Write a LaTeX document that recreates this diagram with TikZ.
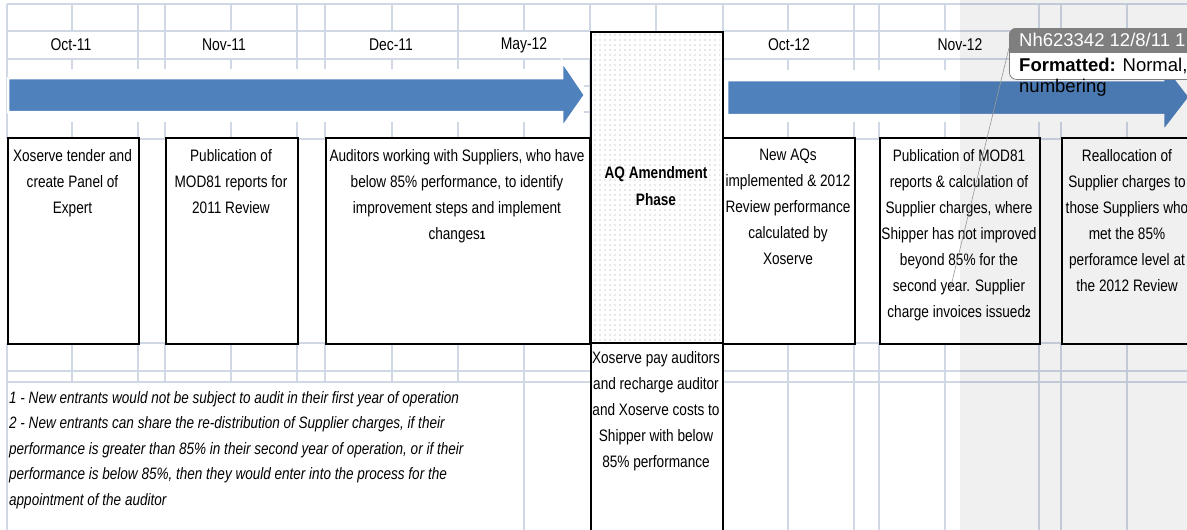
\documentclass[tikz,border=0pt]{standalone}
\usepackage{fontspec}
\setmainfont{Liberation Sans}[FakeStretch=0.82]
\newfontfamily\cmtfont{Liberation Sans}
\usetikzlibrary{patterns.meta,arrows.meta}
\definecolor{gridblue}{HTML}{D0D7E5}
\definecolor{arrowblue}{HTML}{4F81BD}
\definecolor{cmtgrey}{HTML}{7F7F7F}

\begin{document}
\begin{tikzpicture}[x=1pt,y=-1pt,
  gridline/.style={draw=gridblue,line width=1.5pt},
  evbox/.style={draw=black,line width=1.7pt,fill=white,inner sep=0pt,anchor=north west},
  datelbl/.style={inner sep=0pt,font=\fontsize{17}{20}\selectfont},
  boxtxt/.style={anchor=north,inner sep=0pt,align=center,font=\fontsize{16.6}{26}\selectfont},
  bigarrow/.style={fill=arrowblue,draw=white,line width=2.5pt,line join=miter},
  cmttxt/.style={anchor=west,inner sep=0pt,font=\cmtfont\fontsize{18.5}{20}\selectfont}]
  \useasboundingbox (0,0) rectangle (1187,530);
  \fill[white] (0,0) rectangle (1187,530);
  \begin{scope}
  \clip (0,0) rectangle (1187,530);

  % sheet grid
  \foreach \x in {7,72,138,165,231,297,325,392,458,524,590,656,723,788,854,879,945,1039,1061,1127}
    \draw[gridline] (\x,4) -- (\x,31) (\x,59) -- (\x,139);
  \foreach \x in {7,138,165,297,325,458,854,879,1039,1061}
    \draw[gridline] (\x,31) -- (\x,59);
  \foreach \x in {7,72,138,165,231,297,325,392,458,524,788,854,879,945,1039,1061,1127}
    \draw[gridline] (\x,343) -- (\x,382);
  \foreach \x in {7,524,788,854,879,945,1039,1061,1127}
    \draw[gridline] (\x,382) -- (\x,530);
  \draw[gridline] (7,4) -- (1187,4);
  \foreach \y in {31,59,86,112,139,343,371,382}
    \draw[gridline] (7,\y) -- (590,\y) (723,\y) -- (1187,\y);

  % time arrows
  \fill[white] (8,69) rectangle (584,122);
  \fill[white] (724,70) rectangle (1187,122);
  \draw[bigarrow] (8,78) -- (562,78) -- (562,61) -- (585,95) -- (562,128) -- (562,112) -- (8,112) -- cycle;
  \draw[bigarrow] (727,80) -- (1163,80) -- (1163,62) -- (1190,97) -- (1163,132) -- (1163,115) -- (727,115) -- cycle;

  \node[datelbl] (oct11) at (71,45) {Oct-11};
  \node[datelbl] (nov11) at (224,45) {Nov-11};
  \node[datelbl] (dec11) at (391,45) {Dec-11};
  \node[datelbl] (may12) at (524,45) {May-12};
  \node[datelbl] (oct12) at (789,45) {Oct-12};
  \node[datelbl] (nov12) at (960,45) {Nov-12};

  % AQ phase column
  \node[evbox,minimum width=132pt,minimum height=515pt] (aq) at (590,31) {};
  \fill[pattern={Dots[distance=5pt,radius=0.6pt]},pattern color=black!40] (592,33) rectangle (720,341);
  \draw[line width=1.7pt] (aq.west |- 0,343) -- (aq.east |- 0,343);
  \node[boxtxt,font=\bfseries\fontsize{16.6}{27}\selectfont] (aqtxt) at (656,166) {AQ Amendment\\Phase};
  \node[boxtxt] (rechargetxt) at (656,351) {Xoserve pay auditors\\and recharge auditor\\and Xoserve costs to\\Shipper with below\\85\% performance};

  % steps
  \node[evbox,minimum width=131pt,minimum height=206pt] (tender) at (7,137) {};
  \node[evbox,minimum width=132pt,minimum height=206pt] (pubreview) at (165,137) {};
  \node[evbox,minimum width=264pt,minimum height=206pt] (auditors) at (325,137) {};
  \node[evbox,minimum width=132pt,minimum height=206pt] (newaqs) at (722,137) {};
  \node[evbox,minimum width=160pt,minimum height=206pt] (pubcharges) at (879,137) {};
  \node[evbox,minimum width=132pt,minimum height=206pt] (realloc) at (1061,137) {};

  \node[boxtxt] (tendertxt) at (72.5,149) {Xoserve tender and\\create Panel of\\Expert};
  \node[boxtxt] (pubreviewtxt) at (231,149) {Publication of\\MOD81 reports for\\2011 Review};
  \node[boxtxt] (auditorstxt) at (457,149) {Auditors working with Suppliers, who have\\below 85\% performance, to identify\\improvement steps and implement\\changes{\bfseries\fontsize{12}{12}\selectfont 1}};
  \node[boxtxt] (newaqstxt) at (788,149) {New AQs\\implemented \& 2012\\Review performance\\calculated by\\Xoserve};
  \node[boxtxt] (pubchargestxt) at (959,149) {Publication of MOD81\\reports \& calculation of\\Supplier charges, where\\Shipper has not improved\\beyond 85\% for the\\second year. Supplier\\charge invoices issued{\bfseries\fontsize{12}{12}\selectfont 2}};
  \node[boxtxt] (realloctxt) at (1127,149) {Reallocation of\\Supplier charges to\\those Suppliers who\\met the 85\%\\perforamce level at\\the 2012 Review};

  % footnotes
  \node[anchor=north west,inner sep=0pt,align=left,font=\itshape\fontsize{16.5}{25.6}\selectfont] (notes) at (9,391)
    {1 - New entrants would not be subject to audit in their first year of operation\\
     2 - New entrants can share the re-distribution of Supplier charges, if their\\
     performance is greater than 85\% in their second year of operation, or if their\\
     performance is below 85\%, then they would enter into the process for the\\
     appointment of the auditor};

  % markup margin
  \fill[black,opacity=0.06] (960,0) rectangle (1187,530);

  \node[draw=cmtgrey,fill=white,line width=0.8pt,rounded corners=7pt,inner sep=0pt,anchor=north west,
        minimum width=191pt,minimum height=51pt] (cmt) at (1009,28) {};
  \begin{scope}
    \clip[rounded corners=7pt] (1009,28) rectangle (1200,79);
    \fill[cmtgrey] (1000,20) rectangle (1200,53);
  \end{scope}
  \node[cmttxt,text=white] (cmthead) at (1019,40) {Nh623342 12/8/11 1};
  \node[cmttxt] (cmtbody) at (1019,66) {\textbf{Formatted:} Normal,};
  \node[cmttxt] (cmtmore) at (1019,88) {numbering};
  \coordinate (cmtend) at (950,290);
  \draw[cmtgrey!80,line width=0.6pt,-{Latex[length=6pt,width=4pt]}] ([yshift=6pt]cmt.west) -- (cmtend);
  \end{scope}
\end{tikzpicture}
\end{document}
